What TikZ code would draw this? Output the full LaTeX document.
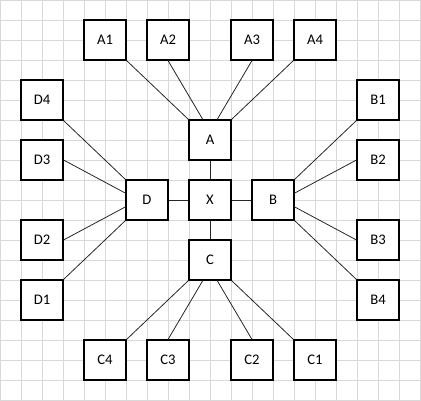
\documentclass[tikz,border=0pt]{standalone}
\usepackage{fontspec}
\setmainfont{Carlito}
\usetikzlibrary{calc}

\tikzset{
	blk/.style={draw, line width=0.8pt, fill=white, minimum width=31.5pt,
		minimum height=30pt, inner sep=0pt, font=\fontsize{11}{13}\selectfont},
	lnk/.style={line width=0.6pt, black!85},
	gridline/.style={line width=0.6pt, black!15}
}

\begin{document}
\begin{tikzpicture}[x=15.75pt, y=-15pt]
	
	\useasboundingbox (0,0) rectangle (20.048,20.05);
	
	% Raster
	\foreach \i in {0,...,20} {
		\draw[gridline] (\i,0) -- (\i,20.05);
		\draw[gridline] (0,\i) -- (20.048,\i);
	}
	
	% Kern
	\node[blk] (X) at (10,10) {X};
	\node[blk] (A) at (10,7) {A};
	\node[blk] (B) at (13,10) {B};
	\node[blk] (C) at (10,13) {C};
	\node[blk] (D) at (7,10) {D};
	
	% Blaetter
	\node[blk] (A1) at (5,2) {A1};
	\node[blk] (A2) at (8,2) {A2};
	\node[blk] (A3) at (12,2) {A3};
	\node[blk] (A4) at (15,2) {A4};
	\node[blk] (B1) at (18,5) {B1};
	\node[blk] (B2) at (18,8) {B2};
	\node[blk] (B3) at (18,12) {B3};
	\node[blk] (B4) at (18,15) {B4};
	\node[blk] (C1) at (15,18) {C1};
	\node[blk] (C2) at (12,18) {C2};
	\node[blk] (C3) at (8,18) {C3};
	\node[blk] (C4) at (5,18) {C4};
	\node[blk] (D1) at (2,15) {D1};
	\node[blk] (D2) at (2,12) {D2};
	\node[blk] (D3) at (2,8) {D3};
	\node[blk] (D4) at (2,5) {D4};
	
	% Kern-Verbindungen
	\draw[lnk] (A) -- (X);
	\draw[lnk] (D) -- (X);
	\draw[lnk] (X) -- (B);
	\draw[lnk] (X) -- (C);
	
	% Ast A
	\draw[lnk] (A1.south east) -- (A.north west);
	\draw[lnk] (A2.south) -- ($(A.north west)!1/3!(A.north east)$);
	\draw[lnk] (A3.south) -- ($(A.north west)!2/3!(A.north east)$);
	\draw[lnk] (A4.south west) -- (A.north east);
	
	% Ast B
	\draw[lnk] (B1.south west) -- (B.north east);
	\draw[lnk] (B2.west) -- ($(B.north east)!1/3!(B.south east)$);
	\draw[lnk] (B3.west) -- ($(B.north east)!2/3!(B.south east)$);
	\draw[lnk] (B4.north west) -- (B.south east);
	
	% Ast C
	\draw[lnk] (C1.north west) -- (C.south east);
	\draw[lnk] (C2.north) -- ($(C.south west)!2/3!(C.south east)$);
	\draw[lnk] (C3.north) -- ($(C.south west)!1/3!(C.south east)$);
	\draw[lnk] (C4.north east) -- (C.south west);
	
	% Ast D
	\draw[lnk] (D1.north east) -- (D.south west);
	\draw[lnk] (D2.east) -- ($(D.north west)!2/3!(D.south west)$);
	\draw[lnk] (D3.east) -- ($(D.north west)!1/3!(D.south west)$);
	\draw[lnk] (D4.south east) -- (D.north west);
	
\end{tikzpicture}
\end{document}
